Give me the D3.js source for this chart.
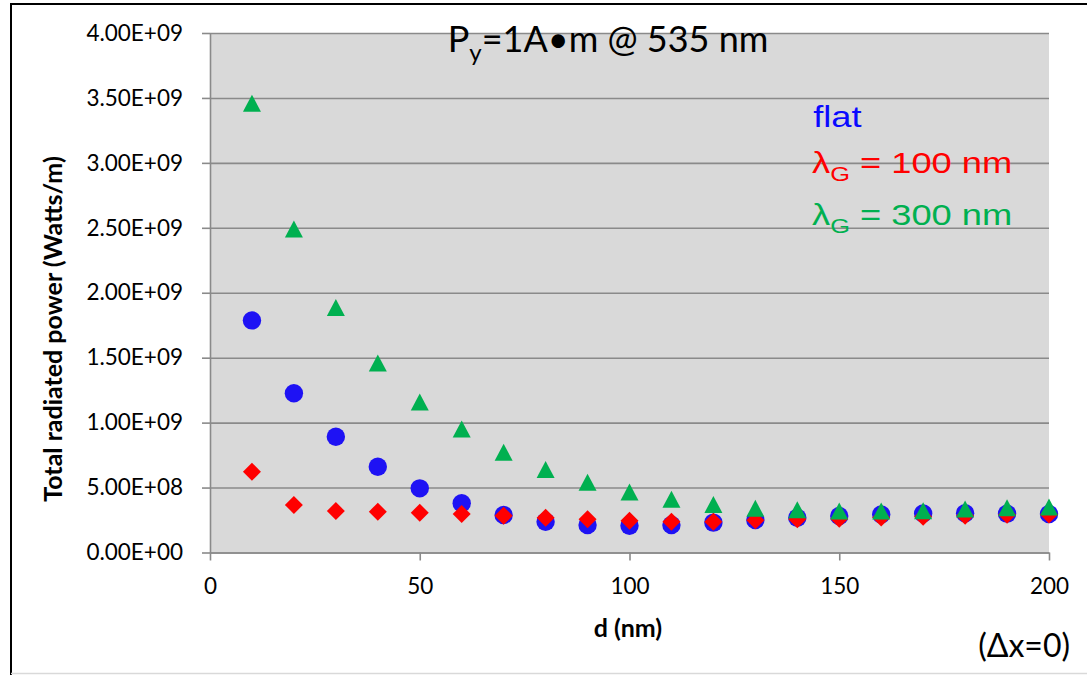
<!DOCTYPE html>
<html>
<head>
<meta charset="utf-8">
<script src="https://cdn.jsdelivr.net/npm/d3@7"></script>
<style>
    body { margin: 0; background: #ffffff; }
    svg { display: block; }
</style>
</head>
<body>
<div id="chart"></div>
<script>
/*************************************************
    Data:
 *************************************************/
var dValues = [10, 20, 30, 40, 50, 60, 70, 80, 90, 100,
               110, 120, 130, 140, 150, 160, 170, 180, 190, 200];

// flat
var flatPower = [1.787e9, 1.226e9, 0.891e9, 0.660e9, 0.494e9, 0.379e9, 0.289e9, 0.237e9, 0.212e9, 0.206e9,
                 0.212e9, 0.230e9, 0.250e9, 0.268e9, 0.281e9, 0.293e9, 0.300e9, 0.302e9, 0.299e9, 0.296e9];
// lambda_G = 100 nm
var grating100 = [0.622e9, 0.366e9, 0.319e9, 0.314e9, 0.306e9, 0.296e9, 0.283e9, 0.268e9, 0.256e9, 0.245e9,
                  0.237e9, 0.237e9, 0.248e9, 0.256e9, 0.260e9, 0.270e9, 0.276e9, 0.283e9, 0.290e9, 0.292e9];
// lambda_G = 300 nm
var grating300 = [3.46e9, 2.49e9, 1.886e9, 1.459e9, 1.159e9, 0.951e9, 0.771e9, 0.640e9, 0.540e9, 0.465e9,
                  0.410e9, 0.370e9, 0.340e9, 0.330e9, 0.320e9, 0.320e9, 0.322e9, 0.335e9, 0.345e9, 0.350e9];

var xTicks = [0, 50, 100, 150, 200];
var yTicks = [0, 5e8, 1e9, 1.5e9, 2e9, 2.5e9, 3e9, 3.5e9, 4e9];
var yTickLabels = ["0.00E+00", "5.00E+08", "1.00E+09", "1.50E+09", "2.00E+09",
                   "2.50E+09", "3.00E+09", "3.50E+09", "4.00E+09"];

/*************************************************
    Setup:
 *************************************************/
var width = 1087, height = 675;
var plotLeft = 210, plotRight = 1049, plotTop = 33, plotBottom = 552.5;
var gridColor = "#8a8a8a";

var svg = d3.select("#chart").append("svg")
    .attr("width", width)
    .attr("height", height);

svg.append("rect").attr("width", width).attr("height", height).attr("fill", "#fff");

// outer frame (only left/top visible in the picture)
svg.append("path")
    .attr("d", "M11,675 L11,4 L1087,4")
    .attr("fill", "none").attr("stroke", "#000").attr("stroke-width", 2);
svg.append("line")
    .attr("x1", 11).attr("x2", 1087).attr("y1", 673.5).attr("y2", 673.5)
    .attr("stroke", "#d9d9d9").attr("stroke-width", 1.5);

var x = d3.scaleLinear().domain([0, 200]).range([plotLeft, plotRight]);
var y = d3.scaleLinear().domain([0, 4e9]).range([plotBottom, plotTop]);

// plot area
svg.append("rect")
    .attr("x", plotLeft).attr("y", plotTop)
    .attr("width", plotRight - plotLeft).attr("height", plotBottom - plotTop)
    .attr("fill", "#d9d9d9");

// grid lines
var grid = svg.append("g")
    .attr("transform", "translate(" + plotLeft + ",0)")
    .call(d3.axisLeft(y).tickValues(yTicks).tickSize(-(plotRight - plotLeft)).tickFormat(""));
grid.select(".domain").remove();
grid.selectAll(".tick line").attr("stroke", gridColor).attr("stroke-width", 1.6);

// y axis
var yAxis = svg.append("g")
    .attr("transform", "translate(" + plotLeft + ",0)")
    .call(d3.axisLeft(y)
        .tickValues(yTicks)
        .tickFormat(function(d, i) { return yTickLabels[i]; })
        .tickSize(8)
        .tickSizeOuter(0)
        .tickPadding(19));

// x axis
var xAxis = svg.append("g")
    .attr("transform", "translate(0," + plotBottom + ")")
    .call(d3.axisBottom(x)
        .tickValues(xTicks)
        .tickSize(8)
        .tickSizeOuter(0)
        .tickPadding(18));

[xAxis, yAxis].forEach(function(ax) {
    ax.attr("font-family", "Lato, sans-serif").attr("font-size", 22.5);
    ax.select(".domain").attr("stroke", gridColor).attr("stroke-width", 1.6);
    ax.selectAll(".tick line").attr("stroke", gridColor).attr("stroke-width", 1.6);
    ax.selectAll(".tick text").attr("fill", "#000");
});

/*************************************************
    Markers:
 *************************************************/
function triangle(cx, cy) {
    var w = 18, h = 17;
    return "M" + cx + "," + (cy - h / 2) +
        "L" + (cx + w / 2) + "," + (cy + h / 2) +
        "L" + (cx - w / 2) + "," + (cy + h / 2) + "Z";
}

function diamond(cx, cy) {
    var r = 9;
    return "M" + cx + "," + (cy - r) + "L" + (cx + r) + "," + cy +
        "L" + cx + "," + (cy + r) + "L" + (cx - r) + "," + cy + "Z";
}

svg.append("g").selectAll("circle")
    .data(flatPower)
    .enter().append("circle")
    .attr("cx", function(d, i) { return x(dValues[i]); })
    .attr("cy", function(d) { return y(d); })
    .attr("r", 9.2)
    .attr("fill", "#1e12f4");

svg.append("g").selectAll("path")
    .data(grating100)
    .enter().append("path")
    .attr("d", function(d, i) { return diamond(x(dValues[i]), y(d)); })
    .attr("fill", "#ff0000");

svg.append("g").selectAll("path")
    .data(grating300)
    .enter().append("path")
    .attr("d", function(d, i) { return triangle(x(dValues[i]), y(d)); })
    .attr("fill", "#00b050");

/*************************************************
    Texts:
 *************************************************/
var title = svg.append("text")
    .attr("x", 608).attr("y", 52)
    .attr("text-anchor", "middle")
    .style("font-family", "Lato, sans-serif")
    .style("font-size", "36px");
title.append("tspan").text("P");
title.append("tspan").attr("dy", 9).style("font-size", "24px").text("y");
title.append("tspan").attr("dy", -9).text("=1A\u2022m @ 535 nm");

// legend, stretched sideways like the original text box
var legend = svg.append("g")
    .attr("transform", "translate(812,0) scale(1.21,1)")
    .style("font-family", "'Liberation Sans', Arial, sans-serif")
    .style("font-size", "30px");

legend.append("text").attr("x", 1).attr("y", 127).attr("fill", "#0a0aff").text("flat");

var leg100 = legend.append("text").attr("x", 0).attr("y", 173).attr("fill", "#ff0000");
leg100.append("tspan").text("\u03bb");
leg100.append("tspan").attr("dy", 8).style("font-size", "21px").text("G");
leg100.append("tspan").attr("dy", -8).text(" = 100 nm");

var leg300 = legend.append("text").attr("x", 0).attr("y", 225).attr("fill", "#00b050");
leg300.append("tspan").text("\u03bb");
leg300.append("tspan").attr("dy", 8).style("font-size", "21px").text("G");
leg300.append("tspan").attr("dy", -8).text(" = 300 nm");

svg.append("text")
    .attr("transform", "translate(62,329) rotate(-90)")
    .attr("text-anchor", "middle")
    .style("font-family", "Lato, sans-serif")
    .style("font-size", "25px")
    .style("font-weight", "bold")
    .text("Total radiated power (Watts/m)");

svg.append("text")
    .attr("x", 628).attr("y", 637)
    .attr("text-anchor", "middle")
    .style("font-family", "Lato, sans-serif")
    .style("font-size", "25px")
    .style("font-weight", "bold")
    .text("d (nm)");

svg.append("text")
    .attr("x", 1070).attr("y", 657)
    .attr("text-anchor", "end")
    .style("font-family", "Lato, sans-serif")
    .style("font-size", "32px")
    .text("(\u0394x=0)");
</script>
</body>
</html>
